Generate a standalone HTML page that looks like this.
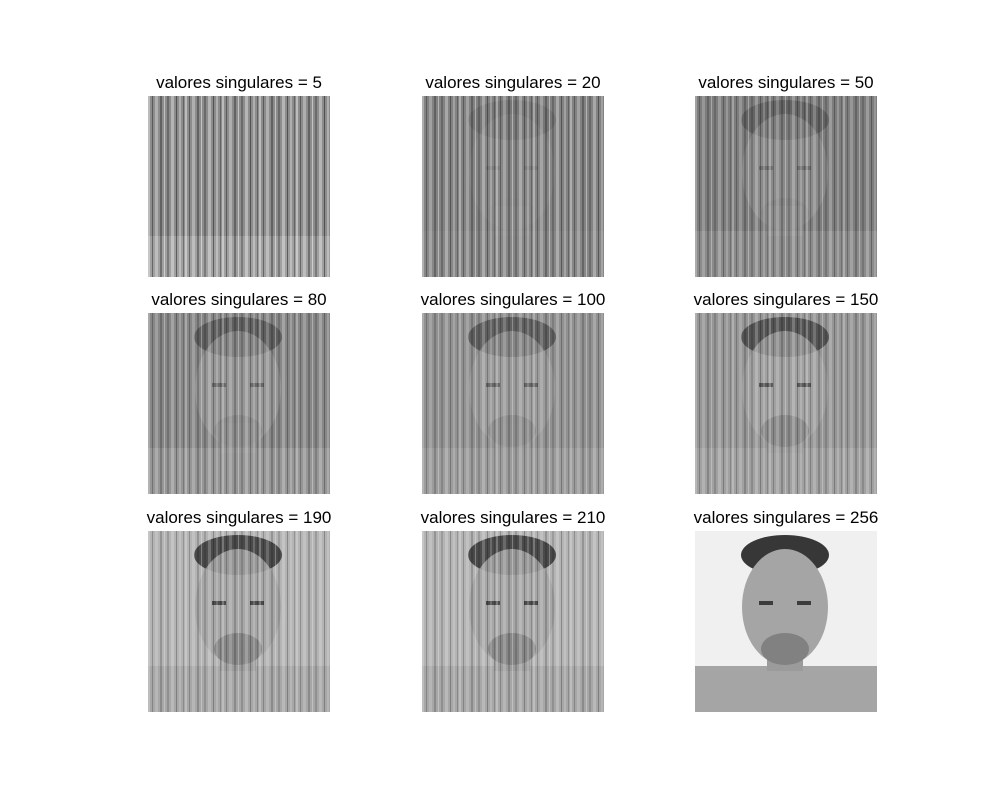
<!DOCTYPE html>
<html><head><meta charset="utf-8">
<style>
body{margin:0;background:#fff;}
svg{display:block;font-family:"Liberation Sans",sans-serif;}
</style></head>
<body>
<svg id="fig" width="1000" height="800" viewBox="0 0 1000 800">
<defs>
<pattern id="stripes" width="37" height="10" patternUnits="userSpaceOnUse">
<rect x="0" y="0" width="2" height="10" fill="#fff" opacity="0.7"/>
<rect x="4" y="0" width="1" height="10" fill="#000" opacity="0.6"/>
<rect x="7" y="0" width="3" height="10" fill="#fff" opacity="0.5"/>
<rect x="12" y="0" width="2" height="10" fill="#000" opacity="0.5"/>
<rect x="16" y="0" width="1" height="10" fill="#fff" opacity="0.8"/>
<rect x="19" y="0" width="2" height="10" fill="#000" opacity="0.4"/>
<rect x="23" y="0" width="3" height="10" fill="#fff" opacity="0.6"/>
<rect x="28" y="0" width="1" height="10" fill="#000" opacity="0.7"/>
<rect x="31" y="0" width="2" height="10" fill="#fff" opacity="0.5"/>
<rect x="35" y="0" width="1" height="10" fill="#000" opacity="0.5"/>
</pattern>
</defs>
</svg>
<script>
const ranks=[5,20,50,80,100,150,190,210,256];
const bgLevel=[140,130,125,135,145,150,180,180,240];
const stripeAmt=[0.6,0.5,0.4,0.4,0.35,0.35,0.35,0.35,0];
const faceAmt=[0,0.15,0.35,0.5,0.55,0.7,0.85,0.85,1];
const colX=[148,422,695], rowY=[96,313,531], W=182,H=181;
const NS="http://www.w3.org/2000/svg";
const svg=document.getElementById('fig');
function mk(t,a,p){const e=document.createElementNS(NS,t);for(const k in a)e.setAttribute(k,a[k]);(p||svg).appendChild(e);return e;}
function g(v){v=Math.round(v);return `rgb(${v},${v},${v})`;}
ranks.forEach((r,i)=>{
 const x=colX[i%3], y=rowY[Math.floor(i/3)];
 const grp=mk('g',{transform:`translate(${x},${y})`});
 
 
 mk('rect',{x:0,y:0,width:W,height:H,fill:g(bgLevel[i])},grp);
 const f=faceAmt[i];
 if(f>0){
  mk('rect',{x:0,y:135,width:W,height:H-135,fill:g(165),opacity:f},grp);
  mk('rect',{x:72,y:110,width:36,height:30,fill:g(155),opacity:f},grp);
  mk('ellipse',{cx:90,cy:24,rx:44,ry:20,fill:g(55),opacity:f},grp);
  mk('ellipse',{cx:90,cy:76,rx:43,ry:58,fill:g(165),opacity:f},grp);
  mk('ellipse',{cx:90,cy:118,rx:24,ry:16,fill:g(120),opacity:f*0.8},grp);
  mk('rect',{x:64,y:70,width:14,height:4,fill:g(60),opacity:f},grp);
  mk('rect',{x:102,y:70,width:14,height:4,fill:g(60),opacity:f},grp);
 } else {
  mk('rect',{x:0,y:140,width:W,height:H-140,fill:g(160)},grp);
 }
 if(stripeAmt[i]>0) mk('rect',{x:0,y:0,width:W,height:H,fill:'url(#stripes)',opacity:stripeAmt[i]},grp);
 const t=mk('text',{x:x+W/2,y:y-8,'text-anchor':'middle','font-size':17,fill:'#000'});
 t.textContent='valores singulares = '+r;
 
 
});
</script>
</body></html>
